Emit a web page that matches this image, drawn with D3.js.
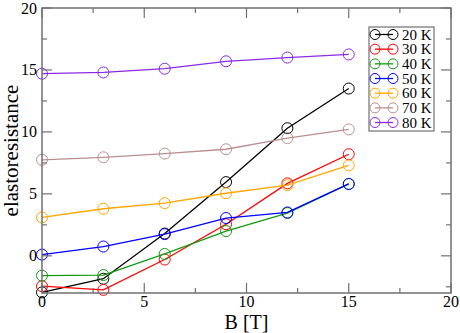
<!DOCTYPE html>
<html>
<head>
<meta charset="utf-8">
<script src="https://cdn.jsdelivr.net/npm/d3@7"></script>
<style>
  body { margin: 0; background: #fff; }
  text { font-family: "Liberation Serif", "DejaVu Serif", serif; }
</style>
</head>
<body>
<svg id="chart" width="460" height="333"></svg>
<script>
// field values in tesla
var fields = [0, 3, 6, 9, 12, 15];

// elastoresistance per temperature
var temps = ["20 K", "30 K", "40 K", "50 K", "60 K", "70 K", "80 K"];
var colors = ["#000000", "#ff0000", "#129b12", "#0000ff", "#ffa500", "#bc8f8f", "#8a2be2"];
var r20 = [-2.95, -1.85, 1.8, 5.95, 10.3, 13.5];
var r30 = [-2.45, -2.75, -0.3, 2.55, 5.85, 8.2];
var r40 = [-1.6, -1.55, 0.15, 2.0, 3.45, 5.8];
var r50 = [0.1, 0.75, 1.75, 3.05, 3.5, 5.8];
var r60 = [3.1, 3.8, 4.25, 5.05, 5.7, 7.3];
var r70 = [7.75, 7.95, 8.25, 8.6, 9.5, 10.2];
var r80 = [14.7, 14.8, 15.1, 15.7, 16.0, 16.25];
var series = [r20, r30, r40, r50, r60, r70, r80];

// tick labels
var xTicks = [0, 5, 10, 15, 20];
var yTicks = [0, 5, 10, 15, 20];
var yMinor = d3.range(-2.5, 20.1, 2.5);
var xMinor = d3.range(0, 20.1, 2.5);

var svg = d3.select("#chart");
var plotL = 42, plotR = 451, plotT = 8, plotB = 293;

var x = d3.scaleLinear().domain([0, 20]).range([plotL, plotR]);
var y = d3.scaleLinear().domain([-3, 20]).range([plotB, plotT]);

var frameColor = "#707070";

// lines and markers
series.forEach(function(vals, i) {
    var pts = fields.map(function(f, j) { return [f, vals[j]]; });
    svg.append("path")
        .attr("d", d3.line().x(function(d) { return x(d[0]); }).y(function(d) { return y(d[1]); })(pts))
        .attr("fill", "none")
        .attr("stroke", colors[i])
        .attr("stroke-width", 1.3);
    svg.selectAll(".m" + i)
        .data(pts)
        .enter()
        .append("circle")
        .attr("cx", function(d) { return x(d[0]); })
        .attr("cy", function(d) { return y(d[1]); })
        .attr("r", 5.5)
        .attr("fill", "none")
        .attr("stroke", colors[i])
        .attr("stroke-width", 1);
});

// frame
svg.append("rect")
    .attr("x", plotL).attr("y", plotT)
    .attr("width", plotR - plotL).attr("height", plotB - plotT)
    .attr("fill", "none")
    .attr("stroke", frameColor)
    .attr("stroke-width", 1.5);

// ticks, inward on all sides
xMinor.forEach(function(v) {
    var len = (v % 5 === 0) ? 10 : 5;
    svg.append("line").attr("x1", x(v)).attr("x2", x(v)).attr("y1", plotB).attr("y2", plotB - len)
        .attr("stroke", frameColor).attr("stroke-width", 1.2);
    svg.append("line").attr("x1", x(v)).attr("x2", x(v)).attr("y1", plotT).attr("y2", plotT + len)
        .attr("stroke", frameColor).attr("stroke-width", 1.2);
});
yMinor.forEach(function(v) {
    var len = (v % 5 === 0) ? 10 : 5;
    svg.append("line").attr("y1", y(v)).attr("y2", y(v)).attr("x1", plotL).attr("x2", plotL + len)
        .attr("stroke", frameColor).attr("stroke-width", 1.2);
    svg.append("line").attr("y1", y(v)).attr("y2", y(v)).attr("x1", plotR).attr("x2", plotR - len)
        .attr("stroke", frameColor).attr("stroke-width", 1.2);
});

// tick labels
svg.selectAll(".xl").data(xTicks).enter().append("text")
    .attr("x", function(d) { return x(d); })
    .attr("y", plotB + 13.5)
    .attr("text-anchor", "middle")
    .attr("font-size", 16)
    .text(function(d) { return d; });

svg.selectAll(".yl").data(yTicks).enter().append("text")
    .attr("x", plotL - 5)
    .attr("y", function(d) { return y(d) + 5.5; })
    .attr("text-anchor", "end")
    .attr("font-size", 16)
    .text(function(d) { return d; });

// axis titles
svg.append("text")
    .attr("x", x(10)).attr("y", 328.5)
    .attr("text-anchor", "middle")
    .attr("font-size", 20)
    .text("B [T]");

svg.append("text")
    .attr("transform", "translate(18," + y(8.5) + ") rotate(-90)")
    .attr("text-anchor", "middle")
    .attr("font-size", 21)
    .text("elastoresistance");

// legend
var lg = svg.append("g").attr("transform", "translate(369,27)");
lg.append("rect")
    .attr("width", 65).attr("height", 104)
    .attr("fill", "#fff")
    .attr("stroke", frameColor)
    .attr("stroke-width", 1.2);
temps.forEach(function(t, i) {
    var ry = 7.5 + i * 14.67;
    lg.append("line").attr("x1", 6).attr("x2", 24).attr("y1", ry).attr("y2", ry)
        .attr("stroke", colors[i]).attr("stroke-width", 1.3);
    [6, 24].forEach(function(cx) {
        lg.append("circle").attr("cx", cx).attr("cy", ry).attr("r", 5)
            .attr("fill", "none").attr("stroke", colors[i]).attr("stroke-width", 1);
    });
    lg.append("text").attr("x", 33).attr("y", ry + 5)
        .attr("font-size", 15)
        .text(t);
});
</script>
</body>
</html>
